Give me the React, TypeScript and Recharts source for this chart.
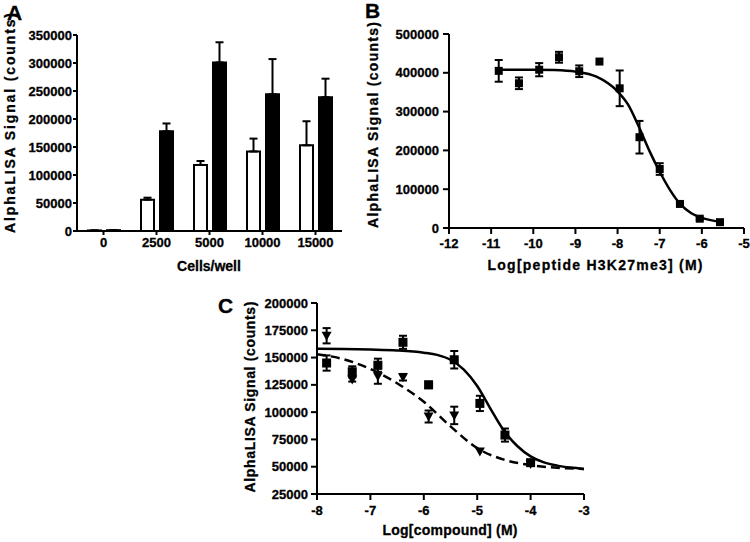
import React from 'react';
import {
  BarChart,
  Bar,
  ComposedChart,
  Scatter,
  Line,
  XAxis,
  YAxis,
  ErrorBar,
} from 'recharts';

// Panel A - cells per well
const cellCategories = ['0', '2500', '5000', '10000', '15000'];
const openValues = [1000, 56000, 118000, 142000, 153000];
const openErrors = [0, 3500, 7000, 23000, 43000];
const filledValues = [1500, 178000, 301000, 244000, 239000];
const filledErrors = [0, 14000, 36000, 63000, 33000];
const cellTicks = [0, 50000, 100000, 150000, 200000, 250000, 300000, 350000];

// Panel B - peptide titration
const peptideLog = [-10.82, -10.34, -9.86, -9.39, -8.91, -8.43, -7.95, -7.48, -7.0, -6.52, -6.05, -5.57];
const peptideSignal = [405000, 373000, 408000, 440000, 404000, 429000, 360000, 234000, 152000, 62000, 24000, 15000];
const peptideError = [28000, 15000, 17000, 14000, 15000, 0, 46000, 42000, 15000, 4000, 3000, 2000];
const peptideFitLog = [-10.82, -10, -9.5, -9, -8.5, -8, -7.75, -7.5, -7.25, -7, -6.75, -6.5, -6.25, -6, -5.57];
const peptideFitSignal = [408000, 408000, 407000, 403000, 390000, 352000, 318000, 262000, 200000, 145000, 97000, 60000, 38000, 26000, 16000];
const peptideXTicks = [-12, -11, -10, -9, -8, -7, -6, -5];
const peptideYTicks = [0, 100000, 200000, 300000, 400000, 500000];

// Panel C - compound titration
const compoundLog = [-7.82, -7.34, -6.86, -6.39, -5.91, -5.43, -4.95, -4.48, -4.0];
const squareSignal = [145000, 137000, 143000, 164000, 125000, 148000, 108000, 79000, 53700];
const squareError = [7000, 5000, 6000, 6000, 3000, 8000, 7000, 6000, 1500];
const triangleLog = [-7.82, -7.34, -6.86, -6.39, -5.91, -5.43, -4.95, -4.0];
const triangleSignal = [170000, 130000, 133000, 132000, 96000, 97000, 64000, 52500];
const triangleError = [7000, 2000, 7000, 3000, 5500, 8000, 0, 0];
const solidFitLog = [-8, -7.5, -7, -6.5, -6, -5.75, -5.5, -5.25, -5, -4.75, -4.5, -4.25, -4, -3.75, -3.5, -3.25, -3];
const solidFitSignal = [158000, 157800, 157300, 156500, 154500, 152500, 148000, 139000, 124000, 103000, 83000, 69000, 59500, 54000, 51000, 49200, 48000];
const dashedFitLog = [-8, -7.5, -7, -6.5, -6, -5.5, -5, -4.5, -4, -3.5, -3];
const dashedFitSignal = [153000, 148500, 139500, 126500, 109500, 87000, 67000, 56500, 51500, 49000, 48000];
const compoundXTicks = [-8, -7, -6, -5, -4, -3];
const compoundYTicks = [25000, 50000, 75000, 100000, 125000, 150000, 175000, 200000];

const FONT = '"Liberation Sans", Arial, Helvetica, sans-serif';
// a thin stroke makes the bold text as heavy as the scanned figure
const tickStyle = { fill: '#000', stroke: '#000', strokeWidth: 0.3, fontSize: 13, fontWeight: 700, fontFamily: FONT };
const axisStroke = { stroke: '#000', strokeWidth: 2 };

const cellData = cellCategories.map((c, i) => ({
  cells: c,
  open: openValues[i],
  openErr: [0, openErrors[i]],
  filled: filledValues[i],
  filledErr: [0, filledErrors[i]],
}));

const peptideData = peptideLog.map((x, i) => ({ x, y: peptideSignal[i], err: peptideError[i] }));
const peptideFit = peptideFitLog.map((x, i) => ({ x, y: peptideFitSignal[i] }));

const squareData = compoundLog.map((x, i) => ({ x, y: squareSignal[i], err: squareError[i] }));
const triangleData = triangleLog.map((x, i) => ({ x, y: triangleSignal[i], err: triangleError[i] }));
const solidFit = solidFitLog.map((x, i) => ({ x, y: solidFitSignal[i] }));
const dashedFit = dashedFitLog.map((x, i) => ({ x, y: dashedFitSignal[i] }));

const SquareDot = (size: number) => (props: any) => {
  const { cx, cy } = props;
  return <rect x={cx - size / 2} y={cy - size / 2} width={size} height={size} fill="#000" />;
};

const DownTriangle = (props: any) => {
  const { cx, cy } = props;
  return <polygon points={`${cx - 5},${cy - 4} ${cx + 5},${cy - 4} ${cx},${cy + 5}`} fill="#000" />;
};

const PanelA = () => (
  <BarChart
    width={360}
    height={280}
    data={cellData}
    margin={{ top: 35, right: 18, bottom: 0, left: 0 }}
    barSize={13}
    barGap={6}
  >
    <XAxis
      dataKey="cells"
      height={49}
      axisLine={axisStroke}
      tickLine={axisStroke}
      tickSize={4}
      tickMargin={3}
      tick={tickStyle}
      interval={0}
    />
    <YAxis
      width={77}
      type="number"
      domain={[0, 350000]}
      ticks={cellTicks}
      interval={0}
      axisLine={axisStroke}
      tickLine={axisStroke}
      tickSize={4}
      tickMargin={1}
      tick={tickStyle}
    />
    <Bar dataKey="open" fill="#fff" stroke="#000" strokeWidth={2} isAnimationActive={false}>
      <ErrorBar dataKey="openErr" direction="y" width={4} stroke="#000" strokeWidth={2} />
    </Bar>
    <Bar dataKey="filled" fill="#000" stroke="#000" strokeWidth={2} isAnimationActive={false}>
      <ErrorBar dataKey="filledErr" direction="y" width={4} stroke="#000" strokeWidth={2} />
    </Bar>
  </BarChart>
);

const PanelB = () => (
  <ComposedChart width={390} height={280} margin={{ top: 34, right: 6, bottom: 0, left: 0 }}>
    <XAxis
      dataKey="x"
      type="number"
      domain={[-12, -5]}
      ticks={peptideXTicks}
      interval={0}
      height={52}
      axisLine={axisStroke}
      tickLine={axisStroke}
      tickSize={6}
      tickMargin={5}
      tick={tickStyle}
    />
    <YAxis
      width={89}
      type="number"
      domain={[0, 500000]}
      ticks={peptideYTicks}
      interval={0}
      axisLine={axisStroke}
      tickLine={axisStroke}
      tickSize={6}
      tickMargin={4}
      tick={tickStyle}
    />
    <Line
      data={peptideFit}
      dataKey="y"
      type="monotone"
      stroke="#000"
      strokeWidth={2.5}
      dot={false}
      activeDot={false}
      isAnimationActive={false}
    />
    <Scatter data={peptideData} dataKey="y" shape={SquareDot(8)} isAnimationActive={false}>
      <ErrorBar dataKey="err" direction="y" width={4} stroke="#000" strokeWidth={2} />
    </Scatter>
  </ComposedChart>
);

const PanelC = () => (
  <ComposedChart width={420} height={262} margin={{ top: 23, right: 16, bottom: 0, left: 0 }}>
    <XAxis
      dataKey="x"
      type="number"
      domain={[-8, -3]}
      ticks={compoundXTicks}
      interval={0}
      height={48}
      axisLine={axisStroke}
      tickLine={axisStroke}
      tickSize={6}
      tickMargin={6}
      tick={tickStyle}
    />
    <YAxis
      width={137}
      type="number"
      domain={[25000, 200000]}
      ticks={compoundYTicks}
      interval={0}
      axisLine={axisStroke}
      tickLine={axisStroke}
      tickSize={6}
      tickMargin={3}
      tick={tickStyle}
    />
    <Line
      data={solidFit}
      dataKey="y"
      type="monotone"
      stroke="#000"
      strokeWidth={2.5}
      dot={false}
      activeDot={false}
      isAnimationActive={false}
    />
    <Line
      data={dashedFit}
      dataKey="y"
      type="monotone"
      stroke="#000"
      strokeWidth={2.5}
      strokeDasharray="9 5"
      dot={false}
      activeDot={false}
      isAnimationActive={false}
    />
    <Scatter data={squareData} dataKey="y" shape={SquareDot(9)} isAnimationActive={false}>
      <ErrorBar dataKey="err" direction="y" width={4} stroke="#000" strokeWidth={2} />
    </Scatter>
    <Scatter data={triangleData} dataKey="y" shape={DownTriangle} isAnimationActive={false}>
      <ErrorBar dataKey="err" direction="y" width={4} stroke="#000" strokeWidth={2} />
    </Scatter>
  </ComposedChart>
);

const titleStyle = { fontFamily: FONT, fontWeight: 700, fill: '#000', stroke: '#000', strokeWidth: 0.3 } as const;

export default function App() {
  return (
    <div
      style={{
        position: 'absolute',
        left: 0,
        top: 0,
        width: 750,
        height: 542,
        background: '#fff',
        fontFamily: FONT,
        overflow: 'hidden',
      }}
    >
      <div style={{ position: 'absolute', left: 0, top: 0 }}>
        <PanelA />
      </div>
      <div style={{ position: 'absolute', left: 360, top: 0 }}>
        <PanelB />
      </div>
      <div style={{ position: 'absolute', left: 180, top: 280 }}>
        <PanelC />
      </div>
      <svg
        width={750}
        height={542}
        style={{ position: 'absolute', left: 0, top: 0, pointerEvents: 'none' }}
      >
        {/* panel letters */}
        <text x={7} y={20} fontSize={21} {...titleStyle}>A</text>
        <text x={365} y={18} fontSize={21} {...titleStyle}>B</text>
        <text x={218} y={313} fontSize={21} {...titleStyle}>C</text>

        {/* y axis titles */}
        <text
          transform="translate(15,123) rotate(-90)"
          textAnchor="middle"
          fontSize={14}
          textLength={220}
          lengthAdjust="spacing"
          {...titleStyle}
        >
          AlphaLISA Signal (counts)
        </text>
        <text
          transform="translate(378,125) rotate(-90)"
          textAnchor="middle"
          fontSize={14}
          textLength={206}
          lengthAdjust="spacing"
          {...titleStyle}
        >
          AlphaLISA Signal (counts)
        </text>
        <text
          transform="translate(255,397) rotate(-90)"
          textAnchor="middle"
          fontSize={14}
          textLength={191}
          lengthAdjust="spacing"
          {...titleStyle}
        >
          AlphaLISA Signal (counts)
        </text>

        {/* x axis titles */}
        <text x={209} y={271} textAnchor="middle" fontSize={14} {...titleStyle}>
          Cells/well
        </text>
        <text
          x={595}
          y={270}
          textAnchor="middle"
          fontSize={14}
          textLength={215}
          lengthAdjust="spacing"
          {...titleStyle}
        >
          Log[peptide H3K27me3] (M)
        </text>
        <text
          x={450}
          y={535}
          textAnchor="middle"
          fontSize={14}
          textLength={135}
          lengthAdjust="spacing"
          {...titleStyle}
        >
          Log[compound] (M)
        </text>
      </svg>
    </div>
  );
}
